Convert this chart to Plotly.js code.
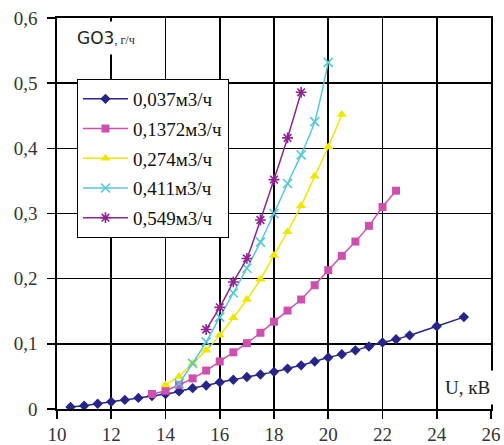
<!DOCTYPE html>
<html>
<head>
<meta charset="utf-8">
<script src="https://cdn.plot.ly/plotly-3.0.1.min.js"></script>
<style>html,body{margin:0;padding:0;background:#fff;}#chart{width:504px;height:445px;}</style>
</head>
<body>
<div id="chart"></div>
<script>
// Series names
const seriesNames = ["0,037м3/ч", "0,1372м3/ч", "0,274м3/ч", "0,411м3/ч", "0,549м3/ч"];

// 0,037 m3/h
const x1 = [10.5, 11, 11.5, 12, 12.5, 13, 13.5, 14, 14.5, 15, 15.5, 16, 16.5, 17, 17.5, 18, 18.5, 19, 19.5, 20, 20.5, 21, 21.5, 22, 22.5, 23, 24, 25];
const y1 = [0.003, 0.005, 0.008, 0.011, 0.014, 0.017, 0.020, 0.023, 0.027, 0.032, 0.036, 0.041, 0.045, 0.049, 0.053, 0.057, 0.062, 0.067, 0.073, 0.079, 0.084, 0.090, 0.096, 0.102, 0.107, 0.113, 0.127, 0.141];

// 0,1372 m3/h
const x2 = [13.5, 14, 14.5, 15, 15.5, 16, 16.5, 17, 17.5, 18, 18.5, 19, 19.5, 20, 20.5, 21, 21.5, 22, 22.5];
const y2 = [0.023, 0.028, 0.037, 0.047, 0.059, 0.073, 0.087, 0.101, 0.117, 0.134, 0.151, 0.168, 0.190, 0.213, 0.235, 0.257, 0.281, 0.310, 0.335];

// 0,274 m3/h
const x3 = [14, 14.5, 15, 15.5, 16, 16.5, 17, 17.5, 18, 18.5, 19, 19.5, 20, 20.5];
const y3 = [0.037, 0.050, 0.070, 0.090, 0.113, 0.140, 0.168, 0.199, 0.236, 0.272, 0.312, 0.357, 0.402, 0.452];

// 0,411 m3/h
const x4 = [14.5, 15, 15.5, 16, 16.5, 17, 17.5, 18, 18.5, 19, 19.5, 20];
const y4 = [0.039, 0.070, 0.103, 0.141, 0.178, 0.216, 0.256, 0.300, 0.346, 0.390, 0.441, 0.532];

// 0,549 m3/h
const x5 = [15.5, 16, 16.5, 17, 17.5, 18, 18.5, 19];
const y5 = [0.122, 0.156, 0.195, 0.231, 0.290, 0.352, 0.416, 0.486];

// Axis ticks
const xTicks = [10, 12, 14, 16, 18, 20, 22, 24, 26];
const yTicks = [0, 0.1, 0.2, 0.3, 0.4, 0.5, 0.6];

const colors = ["#25258a", "#cf4fae", "#f2e600", "#55c8d8", "#8e2590"];
const symbols = ["diamond", "square", "triangle-up", "x-thin-open", "asterisk-open"];
const sizes = [8, 8, 9, 9, 9];

const xs = [x1, x2, x3, x4, x5];
const ys = [y1, y2, y3, y4, y5];

const traces = xs.map((x, i) => {
  const open = symbols[i].indexOf("open") >= 0;
  return {
    x: x, y: ys[i], name: seriesNames[i],
    type: "scatter", mode: "lines+markers",
    legendgroup: "g" + i,
    line: {color: colors[i], width: 1.5, shape: "spline", smoothing: 0.6},
    marker: {
      symbol: symbols[i], size: sizes[i], color: colors[i],
      line: {color: colors[i], width: open ? 1.6 : 0}
    }
  };
});

const serif = "'Liberation Serif', 'Times New Roman', serif";

const layout = {
  width: 504, height: 445,
  margin: {l: 57, r: 13, t: 18, b: 36},
  paper_bgcolor: "#fff", plot_bgcolor: "#fff",
  separators: ", ",
  showlegend: true,
  legend: {
    x: 0.046, y: 0.844, xanchor: "left", yanchor: "top",
    bgcolor: "#fff", bordercolor: "#000", borderwidth: 1,
    font: {family: serif, size: 19, color: "#111"},
    traceorder: "grouped", tracegroupgap: 2, itemwidth: 45
  },
  xaxis: {
    range: [10, 26], tickvals: xTicks, ticktext: xTicks.map(String),
    showgrid: true, gridcolor: "#000", gridwidth: 1.6,
    showline: true, linecolor: "#000", linewidth: 1.6, mirror: true,
    ticks: "outside", ticklen: 8, tickcolor: "#000", tickwidth: 1.6,
    zeroline: false,
    tickfont: {family: serif, size: 19, color: "#333"}
  },
  yaxis: {
    range: [0, 0.6], tickvals: yTicks, ticktext: yTicks.map(v => v === 0 ? "0" : v.toFixed(1).replace(".", ",")),
    showgrid: true, gridcolor: "#000", gridwidth: 1.6,
    showline: true, linecolor: "#000", linewidth: 1.6, mirror: true,
    ticks: "outside", ticklen: 8, tickcolor: "#000", tickwidth: 1.6,
    ticklabelstandoff: 6,
    zeroline: false,
    tickfont: {family: serif, size: 19, color: "#333"}
  },
  annotations: [
    {
      xref: "paper", yref: "paper", x: 0.03, y: 0.948, xanchor: "left", yanchor: "middle",
      text: "<span style='font-family:DejaVu Sans, sans-serif;font-size:17px'>GO3</span><span style='font-family:Liberation Serif, serif;font-size:12px'>, г/ч</span>",
      showarrow: false, bgcolor: "#fff", borderpad: 6,
      font: {family: serif, size: 17, color: "#222"}
    },
    {
      xref: "paper", yref: "paper", x: 1.014, y: 0.056, xanchor: "right", yanchor: "middle",
      text: "U, кВ",
      showarrow: false, bgcolor: "#fff", borderpad: 6,
      font: {family: serif, size: 19, color: "#222"}
    }
  ]
};

Plotly.newPlot("chart", traces, layout, {staticPlot: true, displayModeBar: false});
</script>
</body>
</html>
